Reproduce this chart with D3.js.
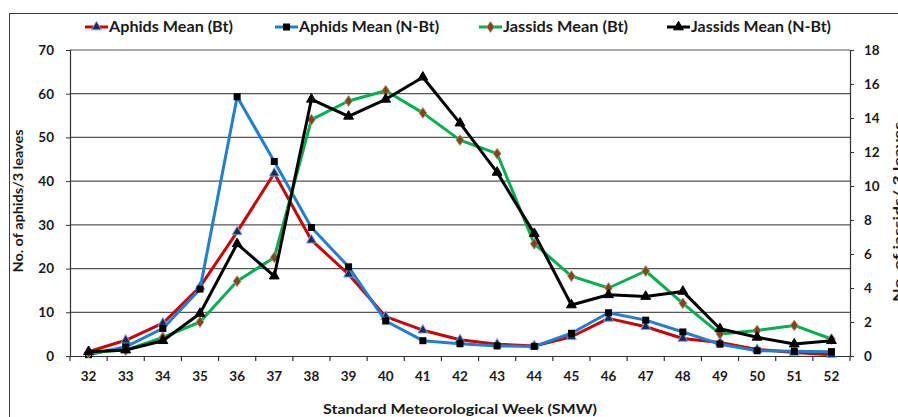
<!DOCTYPE html>
<html>
<head>
<meta charset="utf-8">
<script src="https://cdn.jsdelivr.net/npm/d3@7"></script>
<style>
  body { margin: 0; background: #fff; }
  svg text { font-family: Lato, "Open Sans", sans-serif; font-weight: bold; fill: #1a1a1a; }
</style>
</head>
<body>
<svg id="chart" width="898" height="417"></svg>
<script>
const weeks = [32,33,34,35,36,37,38,39,40,41,42,43,44,45,46,47,48,49,50,51,52];
const aphidsBt  = [1.0,3.6,7.5,15.8,28.4,41.8,26.5,18.7,9.0,5.9,3.7,2.7,2.3,4.4,8.6,6.7,4.0,3.1,1.5,0.8,0.3];
const aphidsNBt = [0.3,2.1,6.3,15.3,59.3,44.5,29.4,20.4,8.0,3.5,2.8,2.3,2.2,5.2,9.9,8.2,5.5,2.7,1.2,1.1,1.0];
const jassidsBt  = [0.2,0.35,1.1,2.0,4.4,5.8,13.9,15.0,15.6,14.3,12.7,11.9,6.6,4.7,4.0,5.0,3.1,1.3,1.5,1.8,1.0];
const jassidsNBt = [0.25,0.35,0.9,2.5,6.6,4.7,15.1,14.1,15.1,16.4,13.7,10.8,7.2,3.0,3.6,3.5,3.8,1.6,1.1,0.7,0.9];
const leftTicks = [0,10,20,30,40,50,60,70];
const rightTicks = [0,2,4,6,8,10,12,14,16,18];
const seriesNames = ["Aphids Mean (Bt)", "Aphids Mean (N-Bt)", "Jassids Mean (Bt)", "Jassids Mean (N-Bt)"];

const svg = d3.select("#chart");
const L = 70, R = 850, T = 50, B = 356;

// outer border
svg.append("rect").attr("x", 9.5).attr("y", 13.5).attr("width", 1000).attr("height", 1000)
  .attr("fill", "none").attr("stroke", "#3a3a3a").attr("stroke-width", 1);

const x = d3.scaleBand().domain(weeks).range([L, R]);
const yL = d3.scaleLinear().domain([0, 70]).range([B, T]);
const yR = d3.scaleLinear().domain([0, 18]).range([B, T]);

// gridlines
svg.append("g").selectAll("line").data(leftTicks.filter(d => d > 0)).join("line")
  .attr("x1", L).attr("x2", R).attr("y1", d => yL(d)).attr("y2", d => yL(d))
  .attr("stroke", "#555").attr("stroke-width", 1.2);

// left axis
const gL = svg.append("g").attr("transform", `translate(${L},0)`)
  .call(d3.axisLeft(yL).tickValues(leftTicks).tickSize(4).tickPadding(12));
gL.selectAll("text").style("font-size", "13.5px");
gL.select(".domain").attr("stroke", "#333").attr("stroke-width", 1.2);
gL.selectAll(".tick line").attr("stroke", "#333");

// right axis
const gR = svg.append("g").attr("transform", `translate(${R},0)`)
  .call(d3.axisRight(yR).tickValues(rightTicks).tickSize(4).tickPadding(10));
gR.selectAll("text").style("font-size", "13.5px");
gR.select(".domain").attr("stroke", "#333").attr("stroke-width", 1.2);
gR.selectAll(".tick line").attr("stroke", "#333");

// bottom axis
const gB = svg.append("g").attr("transform", `translate(0,${B})`)
  .call(d3.axisBottom(x).tickSize(0).tickPadding(15));
gB.selectAll("text").style("font-size", "13.5px");
gB.select(".domain").attr("stroke", "#333").attr("stroke-width", 1.2);
// ticks between categories
const bounds = d3.range(weeks.length + 1).map(i => L + i * x.step());
svg.append("g").selectAll("line").data(bounds).join("line")
  .attr("x1", d => d).attr("x2", d => d).attr("y1", B).attr("y2", B + 5)
  .attr("stroke", "#333").attr("stroke-width", 1.2);

const cx = d => x(d) + x.bandwidth() / 2;

function series(vals, scale, color, marker) {
  const line = d3.line().x((d, i) => cx(weeks[i])).y(d => scale(d));
  svg.append("path").datum(vals).attr("d", line).attr("fill", "none")
    .attr("stroke", color).attr("stroke-width", 3).attr("stroke-linejoin", "round");
  const g = svg.append("g");
  vals.forEach((v, i) => marker(g, cx(weeks[i]), scale(v)));
}
const tri = (fill, stroke) => (g, px, py) => g.append("path")
  .attr("d", d3.symbol(d3.symbolTriangle, 42)()).attr("transform", `translate(${px},${py})`)
  .attr("fill", fill).attr("stroke", stroke).attr("stroke-width", 1);
const sq = (g, px, py) => g.append("rect").attr("x", px - 3.5).attr("y", py - 3.5)
  .attr("width", 7).attr("height", 7).attr("fill", "#000");
const dia = (g, px, py) => g.append("path")
  .attr("d", d3.symbol(d3.symbolDiamond, 34)()).attr("transform", `translate(${px},${py}) scale(1.25,1)`)
  .attr("fill", "#7a4a1e").attr("stroke", "#b89572").attr("stroke-width", 0.8);

const colors = ["#cc0000", "#1f7fd1", "#00b050", "#000000"];
const markers = [tri("#1c2a5a", "#7aa7e0"), sq, dia, tri("#000", "#000")];

series(aphidsBt, yL, colors[0], markers[0]);
series(aphidsNBt, yL, colors[1], markers[1]);
series(jassidsBt, yR, colors[2], markers[2]);
series(jassidsNBt, yR, colors[3], markers[3]);

// legend
const legendX = [85, 275, 479, 667];
const legendW = [124, 140, 125, 140];
const LY = 27;
seriesNames.forEach((name, i) => {
  const g = svg.append("g");
  const lx = legendX[i];
  g.append("line").attr("x1", lx).attr("x2", lx + 23).attr("y1", LY).attr("y2", LY)
    .attr("stroke", colors[i]).attr("stroke-width", 3);
  markers[i](g, lx + 11.5, LY);
  g.append("text").attr("x", lx + 24).attr("y", LY + 5).style("font-size", "14.5px")
    .attr("textLength", legendW[i]).attr("lengthAdjust", "spacingAndGlyphs").text(name);
});

// axis titles
svg.append("text").attr("x", 460).attr("y", 414).attr("text-anchor", "middle")
  .style("font-size", "14px").attr("textLength", 274).attr("lengthAdjust", "spacingAndGlyphs")
  .text("Standard Meteorological Week (SMW)");
svg.append("text").attr("transform", "translate(23,201) rotate(-90)").attr("text-anchor", "middle")
  .style("font-size", "13px").attr("textLength", 143).attr("lengthAdjust", "spacingAndGlyphs")
  .text("No. of aphids/3 leaves");
svg.append("text").attr("transform", "translate(903,212) rotate(-90)").attr("text-anchor", "middle")
  .style("font-size", "13px").attr("textLength", 180).attr("lengthAdjust", "spacingAndGlyphs")
  .text("No. of jassids/ 3 leaves");
</script>
</body>
</html>
